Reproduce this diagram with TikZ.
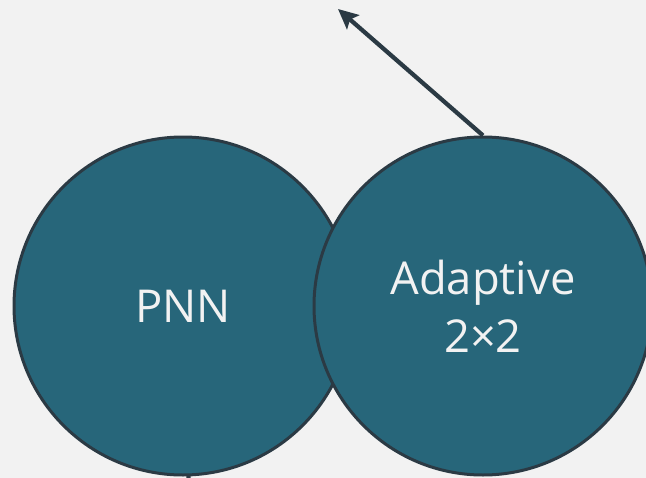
\documentclass[tikz,border=0pt]{standalone}
\usepackage{fontspec}
\setmainfont{Open Sans}
\usetikzlibrary{arrows.meta}
\definecolor{bg}{HTML}{F2F2F2}
\definecolor{tealfill}{HTML}{27667A}
\definecolor{edge}{HTML}{2B3A44}
\begin{document}
\begin{tikzpicture}[x=0.75pt,y=-0.75pt,
  ball/.style={circle,fill=tealfill,draw=edge,line width=2.25pt,
    minimum size=253.5pt,inner sep=0pt,text=bg,align=center,
    font=\fontsize{34}{43.5}\selectfont},
  link/.style={draw=edge,line width=3.2pt},
  tip/.style={-{Stealth[length=15pt,width=14pt,inset=3pt]}}]
  \fill[bg] (0,0) rectangle (646,478);
  \useasboundingbox (0,0) rectangle (646,478);
  \coordinate (top) at (338,9);
  \coordinate (below) at (193,540);
  % connector leaving the lower circle edge
  \draw[link] (183,400) -- (below);
  \node[ball] (pnn) at (183,306) {PNN};
  \node[ball] (adp) at (483,306) {Adaptive\\2×2};
  \draw[link,tip] (adp.north) -- (top);
\end{tikzpicture}
\end{document}
